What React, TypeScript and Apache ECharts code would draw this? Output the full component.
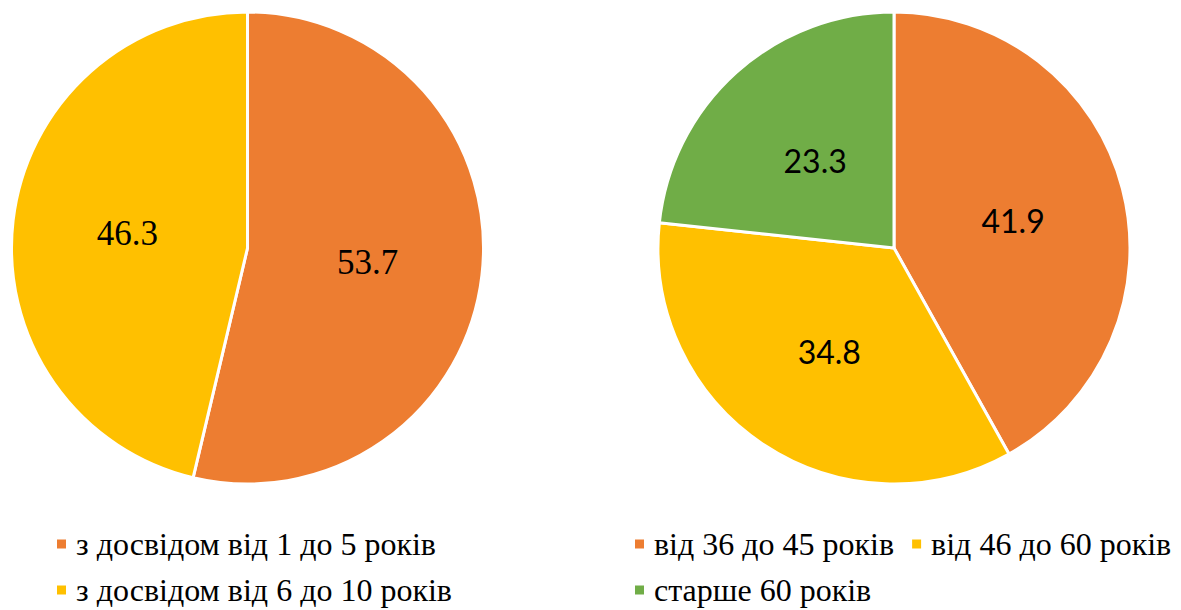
import React, { useEffect, useRef } from "react";
import * as echarts from "echarts";

// Work experience split (left pie)
const experienceNames = ["з досвідом від 1 до 5 років", "з досвідом від 6 до 10 років"];
const experienceValues = [53.7, 46.3];
const experienceColors = ["#ED7D31", "#FFC000"];

// Age split (right pie)
const ageNames = ["від 36 до 45 років", "від 46 до 60 років", "старше 60 років"];
const ageValues = [41.9, 34.8, 23.3];
const ageColors = ["#ED7D31", "#FFC000", "#70AD47"];

const serif = "Liberation Serif, Times New Roman, DejaVu Serif, serif";
const sans = "Lato, Liberation Sans, sans-serif";

function buildData(names: string[], values: number[], colors: string[]) {
  return names.map((name, i) => ({
    name,
    value: values[i],
    itemStyle: { color: colors[i] },
  }));
}

const legendBase = {
  orient: "horizontal" as const,
  icon: "rect",
  itemWidth: 11,
  itemHeight: 11,
  itemGap: 16,
  selectedMode: false,
  textStyle: {
    fontFamily: serif,
    fontSize: 32,
    color: "#000",
    padding: [0, 0, 0, 4],
  },
};

export default function App() {
  const ref = useRef<HTMLDivElement>(null);

  useEffect(() => {
    if (!ref.current) return;
    const chart = echarts.init(ref.current, undefined, { renderer: "svg" });

    const pieBase = {
      type: "pie" as const,
      radius: 236,
      startAngle: 90,
      clockwise: true,
      labelLine: { show: false },
      emphasis: { disabled: true },
      itemStyle: { borderColor: "#ffffff", borderWidth: 3 },
    };

    chart.setOption({
      animation: false,
      backgroundColor: "#ffffff",
      legend: [
        { ...legendBase, data: [experienceNames[0]], left: 50, top: 523 },
        { ...legendBase, data: [experienceNames[1]], left: 50, top: 569 },
        { ...legendBase, data: [ageNames[0], ageNames[1]], left: 628, top: 523 },
        { ...legendBase, data: [ageNames[2]], left: 628, top: 569 },
      ],
      series: [
        {
          ...pieBase,
          name: "experience",
          center: [247.5, 248],
          label: {
            show: true,
            position: "inside",
            formatter: "{c}",
            fontFamily: serif,
            fontSize: 35,
            color: "#000",
          },
          data: buildData(experienceNames, experienceValues, experienceColors),
        },
        {
          ...pieBase,
          name: "age",
          center: [894, 248],
          label: {
            show: true,
            position: "inside",
            formatter: "{c}",
            fontFamily: sans,
            fontSize: 32,
            color: "#000",
            offset: [2, 3],
          },
          data: buildData(ageNames, ageValues, ageColors),
        },
      ],
    });

    return () => chart.dispose();
  }, []);

  return (
    <div
      ref={ref}
      style={{ position: "fixed", left: 0, top: 0, width: 1181, height: 610, background: "#fff" }}
    />
  );
}
